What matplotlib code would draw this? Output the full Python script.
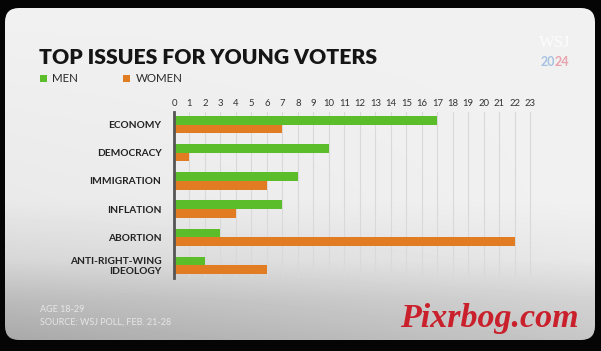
import matplotlib
matplotlib.use("Agg")
import matplotlib.pyplot as plt
import numpy as np
from matplotlib.patches import FancyBboxPatch, Rectangle

categories = ["ECONOMY", "DEMOCRACY", "IMMIGRATION", "INFLATION", "ABORTION",
              "ANTI-RIGHT-WING\nIDEOLOGY"]
men = [17, 10, 8, 7, 3, 2]
women = [7, 1, 6, 4, 22, 6]
ticks = list(range(0, 24))
series_names = ["MEN", "WOMEN"]
title = "TOP ISSUES FOR YOUNG VOTERS"
footer = ["AGE 18-29", "SOURCE: WSJ POLL, FEB. 21-28"]

GREEN = "#5cbd2b"
ORANGE = "#e27c22"
FONT = "Lato"

W, H = 601, 351
fig = plt.figure(figsize=(W / 100, H / 100), dpi=100, facecolor="#050505")

bg = fig.add_axes([0, 0, 1, 1])
bg.set_xlim(0, W)
bg.set_ylim(H, 0)
bg.axis("off")
card = FancyBboxPatch((5, 8), 590, 332, boxstyle="round,pad=0,rounding_size=14",
                      fc="none", ec="none")
bg.add_patch(card)
ys = np.arange(H) + 0.5
xs = np.arange(W) + 0.5
vy = np.interp(ys, [8, 200, 260, 300, 340], [0.945, 0.93, 0.875, 0.78, 0.72])
slope = np.interp(ys, [8, 200, 340], [0.0, 0.03, 0.12])
img = vy[:, None] + slope[:, None] * (xs[None, :] / W - 0.5)
im = bg.imshow(np.clip(img, 0, 1), cmap="gray", vmin=0, vmax=1, extent=(0, W, H, 0),
               aspect="auto", interpolation="bilinear")
im.set_clip_path(card)

# title and legend
bg.text(39, 57, title, fontsize=15.2, fontweight="heavy", family=FONT,
        color="#151515", va="center", ha="left")
bg.add_patch(Rectangle((40, 74.5), 7, 7, color=GREEN, lw=0))
bg.text(52, 78, series_names[0], fontsize=8.3, family=FONT, color="#2a2a2a", va="center")
bg.add_patch(Rectangle((123, 74.5), 7, 7, color=ORANGE, lw=0))
bg.text(136, 78, series_names[1], fontsize=8.3, family=FONT, color="#2a2a2a", va="center")

# logo
bg.text(555, 43, "WSJ", fontsize=12, family="Liberation Serif", color="#fdfdfd",
        va="center", ha="center")
bg.text(555, 62, "20", fontsize=9, fontweight="bold", family=FONT,
        color="#a7c3e2", va="center", ha="right")
bg.text(555, 62, "24", fontsize=9, fontweight="bold", family=FONT,
        color="#e9a3ad", va="center", ha="left")

# footer
bg.text(40, 309, footer[0], fontsize=6.5, family=FONT, color="#e6e6e6", va="center")
bg.text(40, 322, footer[1], fontsize=6.5, family=FONT, color="#e6e6e6", va="center")

# watermark
bg.text(489, 318, "Pixrbog.com", fontsize=24.5, family="Liberation Serif",
        style="italic", fontweight="bold", color="#c9202c", va="center", ha="center")

# chart
ax = fig.add_axes([174 / W, 1 - 278 / H, (538 - 174) / W, (278 - 112) / H])
ax.patch.set_alpha(0)
y = np.arange(len(categories))
ax.barh(y - 0.155, men, height=0.3, color=GREEN, zorder=3)
ax.barh(y + 0.155, women, height=0.3, color=ORANGE, zorder=3)
ax.set_xlim(0, 23.5)
ax.set_ylim(5.46, -0.46)
ax.set_xticks(ticks)
ax.set_xticklabels([str(t) for t in ticks], family=FONT)
ax.xaxis.tick_top()
ax.grid(axis="x", color="#d9d9d9", lw=0.8, zorder=0)
ax.set_axisbelow(True)
ax.tick_params(axis="x", length=0, pad=3, labelsize=6.8, labelcolor="#333333")
ax.set_yticks(y)
ax.set_yticklabels(categories, fontweight="bold", family=FONT, fontsize=7.3,
                   color="#222222", linespacing=1.1)
ax.tick_params(axis="y", length=0, pad=9)
for s in ["top", "right", "bottom"]:
    ax.spines[s].set_visible(False)
ax.spines["left"].set_color("#555555")
ax.spines["left"].set_linewidth(2)
ax.spines["left"].set_zorder(4)

fig.savefig("out.png", dpi=100, facecolor=fig.get_facecolor())
